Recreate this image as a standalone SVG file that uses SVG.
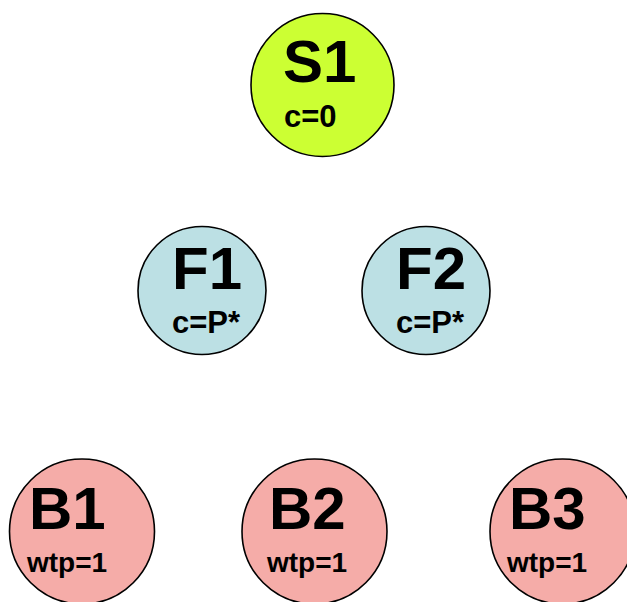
<svg xmlns="http://www.w3.org/2000/svg" width="627" height="602" viewBox="0 0 627 602">
  <style>
    circle { stroke: #000; stroke-width: 1.6; }
    .s { fill: #CCFF33; }
    .f { fill: #BCE0E4; }
    .b { fill: #F5ACA8; }
    text { font-family: "Liberation Sans", Arial, sans-serif; font-weight: bold; fill: #000; }
    .big { font-size: 60px; }
    .small { font-size: 31px; }
    .tiny { font-size: 28px; }
  </style>
  <rect width="627" height="602" fill="#fff"/>
  <g id="S1">
    <circle class="s" cx="322.5" cy="85" r="71.5"/>
    <text class="big" x="283" y="82">S1</text>
    <text class="small" x="284" y="127">c=0</text>
  </g>
  <g id="F1">
    <circle class="f" cx="202" cy="290.5" r="64"/>
    <text class="big" x="172" y="289">F1</text>
    <text class="small" x="172" y="333">c=P*</text>
  </g>
  <g id="F2">
    <circle class="f" cx="426" cy="290.5" r="64"/>
    <text class="big" x="396" y="289">F2</text>
    <text class="small" x="396" y="333">c=P*</text>
  </g>
  <g id="B1">
    <circle class="b" cx="82" cy="531.5" r="72.5"/>
    <text class="big" x="29" y="529">B1</text>
    <text class="tiny" x="27" y="572">wtp=1</text>
  </g>
  <g id="B2">
    <circle class="b" cx="314.5" cy="531.5" r="72.5"/>
    <text class="big" x="269" y="529">B2</text>
    <text class="tiny" x="267" y="572">wtp=1</text>
  </g>
  <g id="B3">
    <circle class="b" cx="562.5" cy="531.5" r="72.5"/>
    <text class="big" x="509" y="529">B3</text>
    <text class="tiny" x="507" y="572">wtp=1</text>
  </g>
  <g id="connectors"/>
</svg>
